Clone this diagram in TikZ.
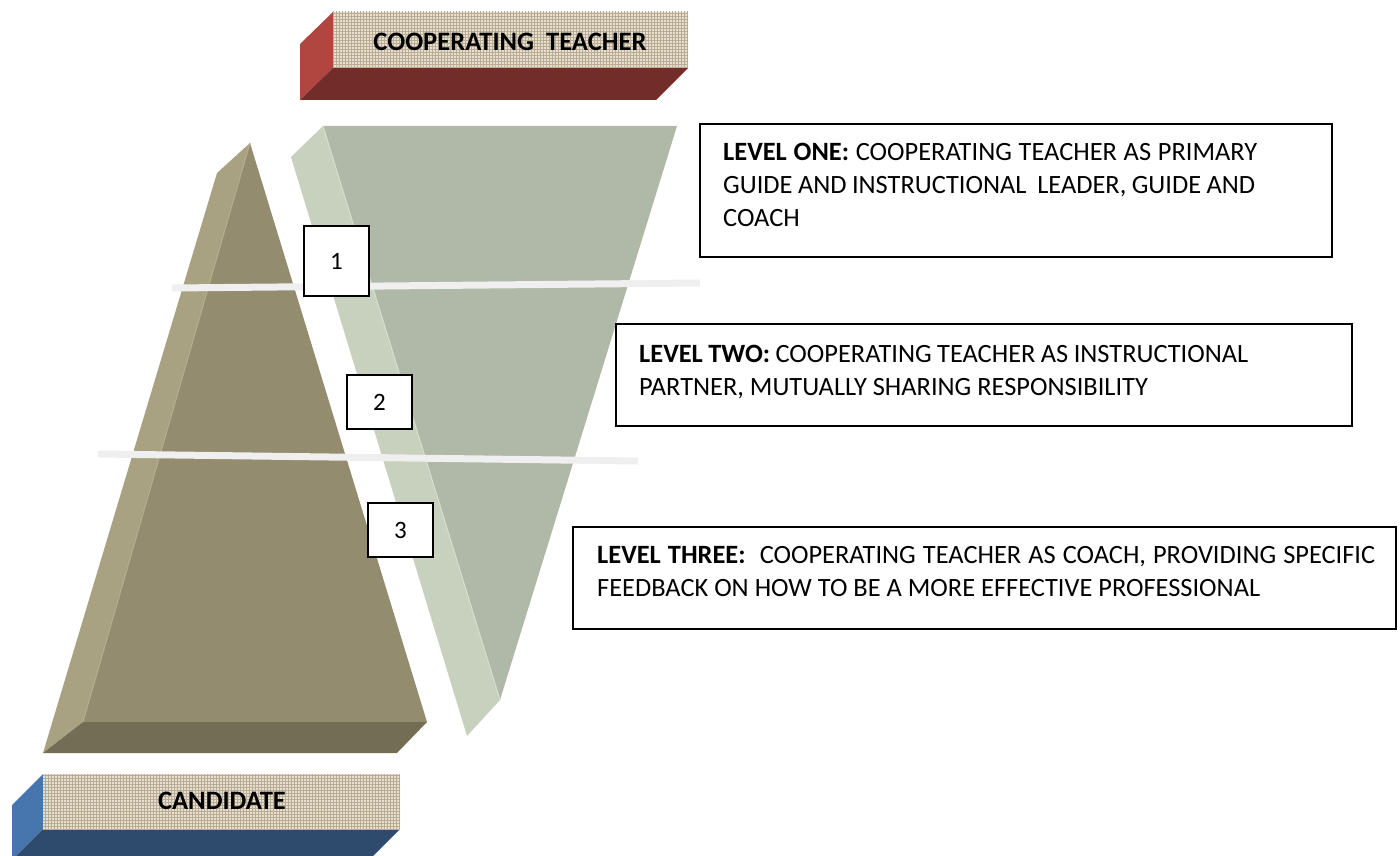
\documentclass[tikz,border=0pt]{standalone}
\usepackage{fontspec}
\setmainfont{Carlito}
\usetikzlibrary{patterns}

\definecolor{ctside}{HTML}{B0463F}
\definecolor{ctbottom}{HTML}{722D2B}
\definecolor{cdside}{HTML}{4776AE}
\definecolor{cdbottom}{HTML}{2E4B6E}
\definecolor{linen}{HTML}{E8DFCE}
\definecolor{linendark}{HTML}{B8AC96}
\definecolor{pyrfront}{HTML}{938C6E}
\definecolor{pyrside}{HTML}{A9A282}
\definecolor{pyrbottom}{HTML}{736D55}
\definecolor{pyredge}{HTML}{B4AD8E}
\definecolor{funfront}{HTML}{B0B8A7}
\definecolor{funside}{HTML}{C8D0BE}
\definecolor{funedge}{HTML}{D8DFCE}
\definecolor{levelline}{HTML}{EFEFEF}

\tikzset{
  linenface/.style={fill=linen},
  linentex/.style={pattern=grid, pattern color=linendark, fill opacity=0.25},
  blocklabel/.style={font=\fontsize{26.6}{30}\selectfont\bfseries, inner sep=0pt},
  numbox/.style={draw=black, line width=2pt, fill=white, minimum width=65pt,
    font=\fontsize{25}{30}\selectfont, inner sep=0pt},
  levelbox/.style={draw=black, line width=2pt, fill=white, inner sep=0pt},
  leveltext/.style={anchor=north west, inner sep=0pt, align=left,
    font=\fontsize{26.4}{33}\selectfont},
  divider/.style={levelline, line width=7pt},
}

\newcommand{\jline}[2]{\makebox[#1pt][s]{#2}}

\begin{document}
\begin{tikzpicture}[x=1pt, y=-1pt]
\useasboundingbox (0,0) rectangle (1400,856);

% ---- cooperating teacher block (top) ----
\fill[ctside] (300,44) -- (333,12) -- (333,68) -- (300,100) -- cycle;
\fill[ctbottom] (333,68) -- (688,68) -- (656,100) -- (300,100) -- cycle;
\fill[linenface] (333,12) rectangle (688,68);
\fill[linentex] (333,12) rectangle (688,68);
\node[blocklabel] (ct) at (510,42) {COOPERATING\ \ TEACHER};

% ---- candidate pyramid ----
\fill[pyrside] (217,173) -- (250,143) -- (83,722) -- (43,753) -- cycle;
\fill[pyrfront] (250,143) -- (427,722) -- (83,722) -- cycle;
\fill[pyrbottom] (83,722) -- (427,722) -- (397,753) -- (43,753) -- cycle;
\draw[pyredge, line width=1pt] (250,143) -- (83,722);

% ---- cooperating teacher funnel ----
\fill[funside] (291,157) -- (323,126) -- (500,700) -- (467,736) -- cycle;
\fill[funfront] (323,126) -- (677,126) -- (500,700) -- cycle;
\draw[funedge, line width=1pt] (323,126) -- (500,700);

% ---- level dividers ----
\draw[divider] (172,288) -- (700,283);
\draw[divider] (98,454) -- (638,461);

% ---- level numbers ----
\node[numbox, minimum height=70pt] (n1) at (336.5,261) {1};
\node[numbox, minimum height=54pt] (n2) at (379.5,402) {2};
\node[numbox, minimum height=54pt] (n3) at (400.5,530) {3};

% ---- level descriptions ----
\node[levelbox, minimum width=632pt, minimum height=133pt] (l1) at (1016,190.5) {};
\node[leveltext] (t1) at (723,143) {%
  \jline{534}{\textbf{LEVEL ONE:} COOPERATING TEACHER AS PRIMARY}\\
  \jline{532}{GUIDE AND INSTRUCTIONAL\ \ LEADER, GUIDE AND}\\
  COACH};

\node[levelbox, minimum width=736pt, minimum height=102pt] (l2) at (984,375) {};
\node[leveltext] (t2) at (639,345) {%
  \jline{609}{\textbf{LEVEL TWO:} COOPERATING TEACHER AS INSTRUCTIONAL}\\
  PARTNER, MUTUALLY SHARING RESPONSIBILITY};

\node[levelbox, minimum width=823pt, minimum height=102pt] (l3) at (984.5,578) {};
\node[leveltext] (t3) at (597,546) {%
  \jline{778}{\textbf{LEVEL THREE:}\ \ COOPERATING TEACHER AS COACH, PROVIDING SPECIFIC}\\
  FEEDBACK ON HOW TO BE A MORE EFFECTIVE\ PROFESSIONAL};

% ---- candidate block (bottom) ----
\fill[cdside] (12,805) -- (43,774) -- (43,829) -- (12,860) -- cycle;
\fill[cdbottom] (43,829) -- (400,829) -- (369,860) -- (12,860) -- cycle;
\fill[linenface] (43,774) rectangle (400,829);
\fill[linentex] (43,774) rectangle (400,829);
\node[blocklabel] (cd) at (222,801) {CANDIDATE};
\end{tikzpicture}
\end{document}
